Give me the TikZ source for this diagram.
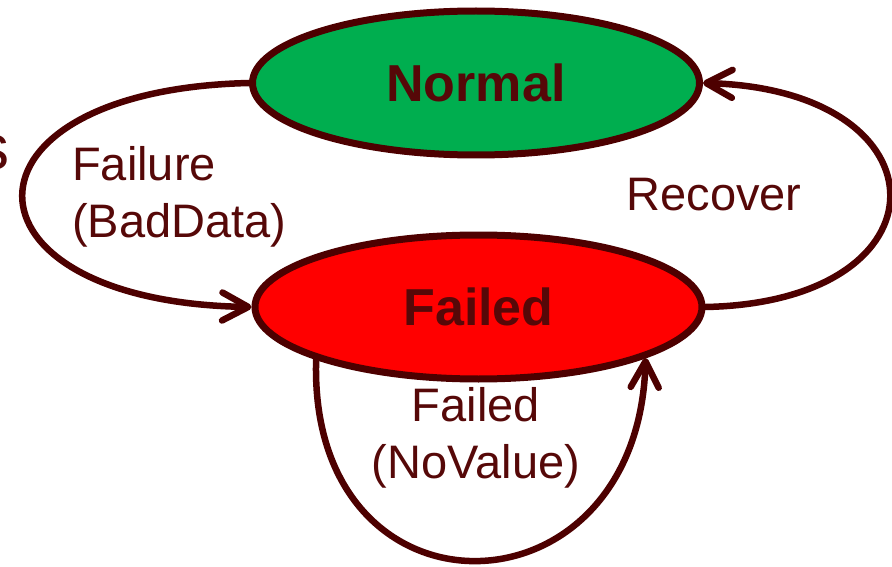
\documentclass[tikz,border=0pt]{standalone}
\usepackage{fontspec}
\setmainfont{Liberation Sans}
\usetikzlibrary{arrows.meta,shapes.geometric}
\definecolor{edgemaroon}{HTML}{4D0000}
\definecolor{inkmaroon}{HTML}{560808}
\definecolor{okgreen}{HTML}{00AE4F}
\definecolor{failred}{HTML}{FF0000}
\begin{document}
\begin{tikzpicture}[x=1pt,y=-1pt,
  state/.style={ellipse, draw=edgemaroon, line width=7pt, minimum width=447pt,
    minimum height=144pt, inner sep=0pt,
    font=\fontsize{52}{60}\selectfont\bfseries, text=inkmaroon},
  trans/.style={draw=edgemaroon, line width=6.5pt, line cap=round,
    -{Straight Barb[length=26pt,width=28pt,round]}},
  lbl/.style={font=\fontsize{47}{57}\selectfont, text=inkmaroon, inner sep=0pt}]
\useasboundingbox (0,0) rectangle (892,567);
\clip (0,0) rectangle (892,567);
% states
\node[state, fill=okgreen] (N) at (476,83) {\raisebox{-5pt}{Normal}};
\node[state, fill=failred] (F) at (478.5,307) {\raisebox{-5pt}{Failed}};
% transitions
\draw[trans] (N.west) .. controls +(-303,7) and +(-303,-5) .. (F.west);
\draw[trans] (F.east) .. controls +(247,-5) and +(247,7) .. (N.east);
\draw[trans] (F.198) .. controls +(-8,270) and +(-8,267) .. (F.-17);
% transition labels
\node[lbl, anchor=west, align=left] (bad) at (72,197) {Failure\\(BadData)};
\node[lbl] (rec) at (714,195) {Recover};
\node[lbl, align=center] (nov) at (476,438) {Failed\\(NoValue)};
% trailing letter cut by the left edge
\node[lbl, font=\fontsize{64}{70}\selectfont] (cut) at (-6,153) {s};
\end{tikzpicture}
\end{document}
